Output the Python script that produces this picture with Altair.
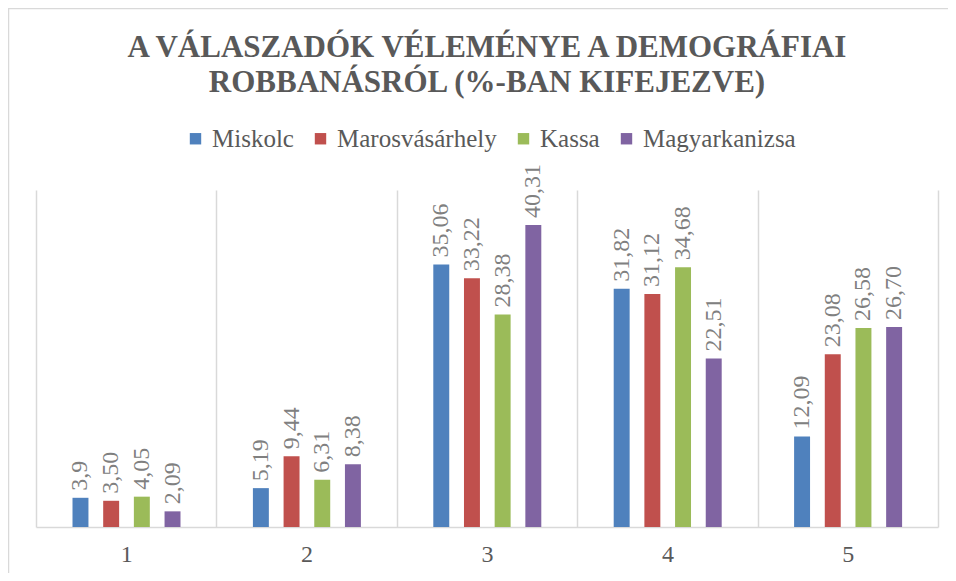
import altair as alt
import pandas as pd

categories = ["1", "2", "3", "4", "5"]
series = ["Miskolc", "Marosvásárhely", "Kassa", "Magyarkanizsa"]
colors = ["#4f81bd", "#c0504d", "#9bbb59", "#8064a2"]

miskolc = [3.9, 5.19, 35.06, 31.82, 12.09]
marosvasarhely = [3.50, 9.44, 33.22, 31.12, 23.08]
kassa = [4.05, 6.31, 28.38, 34.68, 26.58]
magyarkanizsa = [2.09, 8.38, 40.31, 22.51, 26.70]

miskolc_labels = ["3,9", "5,19", "35,06", "31,82", "12,09"]
marosvasarhely_labels = ["3,50", "9,44", "33,22", "31,12", "23,08"]
kassa_labels = ["4,05", "6,31", "28,38", "34,68", "26,58"]
magyarkanizsa_labels = ["2,09", "8,38", "40,31", "22,51", "26,70"]

title_lines = ["A VÁLASZADÓK VÉLEMÉNYE A DEMOGRÁFIAI", "ROBBANÁSRÓL (%-BAN KIFEJEZVE)"]

rows = []
for name, vals, labs in [
    ("Miskolc", miskolc, miskolc_labels),
    ("Marosvásárhely", marosvasarhely, marosvasarhely_labels),
    ("Kassa", kassa, kassa_labels),
    ("Magyarkanizsa", magyarkanizsa, magyarkanizsa_labels),
]:
    for c, v, l in zip(categories, vals, labs):
        rows.append({"cat": c, "series": name, "value": v, "label": l})
df = pd.DataFrame(rows)

FONT = "Liberation Serif"
GRID = "#d9d9d9"

base = alt.Chart(df).encode(
    x=alt.X(
        "cat:N",
        sort=categories,
        scale=alt.Scale(paddingInner=0, paddingOuter=0),
        axis=alt.Axis(
            title=None,
            labelAngle=0,
            grid=True,
            tickBand="extent",
            gridColor=GRID,
            gridWidth=1.5,
            domainColor=GRID,
            domainWidth=1.5,
            ticks=False,
            labelFont=FONT,
            labelFontSize=24,
            labelColor="#595959",
            labelPadding=15,
        ),
    ),
    xOffset=alt.XOffset(
        "series:N", sort=series,
        scale=alt.Scale(paddingInner=0.48, paddingOuter=0, range=[36.5, 144.5]),
    ),
    y=alt.Y("value:Q", scale=alt.Scale(domain=[0, 45]), axis=None),
)

bars = base.mark_bar().encode(
    color=alt.Color(
        "series:N",
        sort=series,
        scale=alt.Scale(domain=series, range=colors),
        legend=alt.Legend(
            title=None,
            orient="none",
            direction="horizontal",
            legendX=147,
            legendY=-64,
            symbolType="square",
            symbolSize=130,
            symbolStrokeWidth=0,
            labelFont=FONT,
            labelFontSize=25,
            labelColor="#595959",
            labelOffset=4,
            columnPadding=14,
        ),
    )
)

labels = base.mark_text(
    angle=270,
    align="left",
    baseline="middle",
    dx=7,
    font=FONT,
    fontSize=24,
    color="#808080",
).encode(text="label:N")

frame = alt.Chart(pd.DataFrame({"a": [0]})).mark_rect(
    fill=None, stroke=GRID, strokeWidth=1.5
).encode(
    x=alt.value(-27.5), x2=alt.value(3000), y=alt.value(-181.5), y2=alt.value(3000)
)

chart = (
    alt.layer(frame, bars, labels)
    .properties(
        width=902,
        height=337,
        autosize=alt.AutoSizeParams(type="none"),
        padding={"left": 28, "top": 182, "right": 10, "bottom": 46},
        title=alt.Title(
            text=title_lines,
            anchor="middle",
            frame="group",
            font=FONT,
            fontSize=31,
            fontWeight="bold",
            color="#595959",
            lineHeight=35,
            offset=-91,
        ),
    )
    .configure_view(stroke=None)
)

chart.save("out.html", embed_options={"renderer": "svg", "actions": False})
